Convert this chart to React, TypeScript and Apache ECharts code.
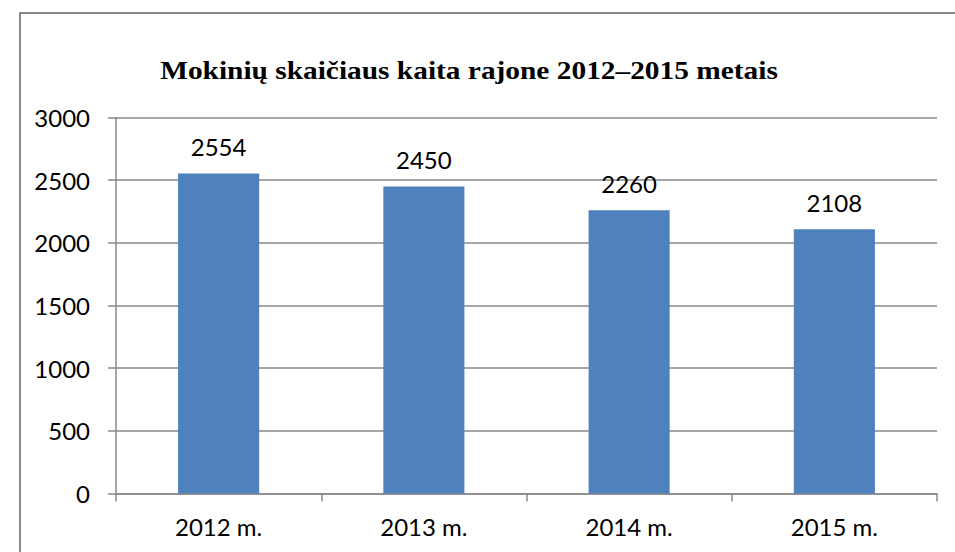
import React, { useEffect, useRef } from "react";
import * as echarts from "echarts";

const categories = ["2012 m.", "2013 m.", "2014 m.", "2015 m."];
const values = [2554, 2450, 2260, 2108];
const yTicks = [0, 500, 1000, 1500, 2000, 2500, 3000];
const titleText = "Mokinių skaičiaus kaita rajone 2012–2015 metais";

export default function App() {
  const ref = useRef<HTMLDivElement>(null);
  useEffect(() => {
    if (!ref.current) return;
    const chart = echarts.init(ref.current, null, { renderer: "svg" });
    const gray = "#898989";
    chart.setOption({
      animation: false,
      backgroundColor: "#ffffff",
      graphic: [
        {
          type: "rect",
          silent: true,
          z: -1,
          shape: { x: 20, y: 13, width: 980, height: 600 },
          style: { fill: "#ffffff", stroke: gray, lineWidth: 2 },
        },
        {
          type: "text",
          x: 469,
          y: 70,
          scaleX: 1.13,
          style: {
            text: titleText,
            fill: "#000",
            font: "bold 26px 'Liberation Serif', 'Times New Roman', serif",
            textAlign: "center",
            textVerticalAlign: "middle",
          },
        },
      ],
      grid: { left: 116, right: 18, top: 117.5, bottom: 58.5, containLabel: false },
      xAxis: {
        type: "category",
        data: categories,
        boundaryGap: true,
        axisLine: { show: true, lineStyle: { color: gray, width: 1.5 } },
        axisTick: { show: true, length: 8, lineStyle: { color: gray, width: 1.5 } },
        axisLabel: { color: "#000", fontFamily: "Lato", fontSize: 24, margin: 21 },
        splitLine: { show: false },
      },
      yAxis: {
        type: "value",
        min: yTicks[0],
        max: yTicks[yTicks.length - 1],
        interval: yTicks[1] - yTicks[0],
        axisLine: { show: true, lineStyle: { color: gray, width: 1.5 } },
        axisTick: { show: true, length: 8, lineStyle: { color: gray, width: 1.5 } },
        axisLabel: {
          color: "#000",
          fontFamily: "Lato",
          fontSize: 24,
          margin: 26,
          formatter: (v: number) => String(v),
        },
        splitLine: { show: true, lineStyle: { color: gray, width: 1.5 } },
      },
      series: [
        {
          type: "bar",
          data: values,
          barWidth: "39.5%",
          itemStyle: { color: "#4F81BD" },
          label: {
            show: true,
            position: "top",
            distance: 15,
            color: "#000",
            fontFamily: "Lato",
            fontSize: 24,
          },
        },
      ],
    });
    return () => chart.dispose();
  }, []);
  return (
    <div
      ref={ref}
      style={{ position: "fixed", left: 0, top: 0, width: 955, height: 552 }}
    />
  );
}
